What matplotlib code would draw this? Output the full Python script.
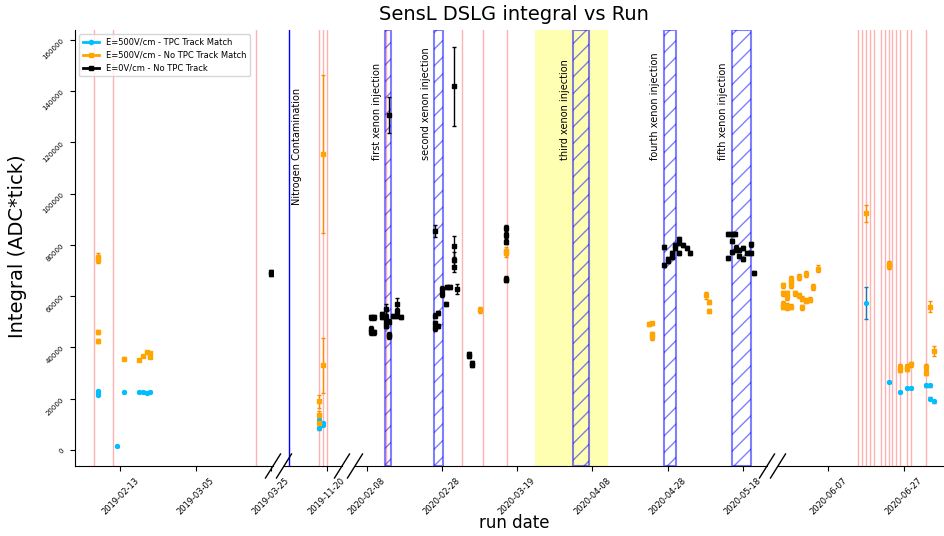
import pandas as pd
import matplotlib
matplotlib.use('Agg')
import matplotlib.pyplot as plt
import matplotlib.dates as mdates
from matplotlib.lines import Line2D

# E=500V/cm - TPC Track Match
blue_dates = ['2019-02-07', '2019-02-07', '2019-02-07', '2019-02-12', '2019-02-14', '2019-02-18',
              '2019-02-19', '2019-02-20', '2019-02-21', '2019-11-18', '2019-11-18',
              '2019-11-18 22:00', '2019-11-18 22:00', '2020-06-17', '2020-06-23', '2020-06-25 22:00',
              '2020-06-27 22:00', '2020-06-28 22:00', '2020-07-02 20:00', '2020-07-03 22:00',
              '2020-07-03 22:00', '2020-07-04 22:00']
blue_vals = [21500, 22300, 23000, 1600, 22500, 22500, 22700, 22400, 22800, 11800, 8500,
             10500, 9800, 57500, 26500, 22700, 24200, 24200, 25200, 25200, 20000, 19000]
blue_errs = [500, 500, 500, 300, 400, 400, 400, 400, 400, 600, 600,
             600, 600, 6200, 500, 500, 500, 500, 500, 500, 500, 500]

# E=500V/cm - No TPC Track Match
orange_dates = ['2019-02-07', '2019-02-07', '2019-02-07', '2019-02-07', '2019-02-14', '2019-02-18',
                '2019-02-19', '2019-02-20', '2019-02-21', '2019-02-21', '2019-11-18', '2019-11-18',
                '2019-11-18', '2019-11-18 22:00', '2019-11-18 22:00', '2020-03-09 05:00',
                '2020-03-16 02:00', '2020-03-16 02:00', '2020-04-23', '2020-04-24', '2020-04-24',
                '2020-04-24', '2020-05-08 04:00', '2020-05-09 02:00', '2020-05-09 02:00',
                '2020-05-26 02:00', '2020-05-26 02:00', '2020-05-26 02:00', '2020-05-26 02:00',
                '2020-05-27', '2020-05-27', '2020-05-27', '2020-05-27',
                '2020-05-28 02:00', '2020-05-28 02:00', '2020-05-28 02:00', '2020-05-28 02:00',
                '2020-05-29 05:00', '2020-05-30 05:00', '2020-05-30 05:00', '2020-05-31 02:00',
                '2020-05-31 02:00', '2020-06-01 02:00', '2020-06-01 02:00', '2020-06-02 02:00',
                '2020-06-03', '2020-06-04 05:00', '2020-06-17', '2020-06-23', '2020-06-23',
                '2020-06-25 22:00', '2020-06-25 22:00', '2020-06-27 22:00', '2020-06-27 22:00',
                '2020-06-28 22:00', '2020-07-02 20:00', '2020-07-02 20:00', '2020-07-03 22:00',
                '2020-07-04 22:00']
orange_vals = [75500, 74000, 46100, 42600, 35650, 35100, 36700, 38250, 37700, 36300,
               19000, 13750, 10600, 115500, 33000, 54600, 77600, 77000, 49100, 49400, 45200,
               43900, 60300, 57700, 54100, 64200, 61200, 57000, 55900, 61200, 59600, 56300,
               55700, 66800, 65500, 64200, 55900, 61200, 67500, 60300, 59000, 55700, 68800,
               58300, 58600, 63600, 70800, 92400, 72700, 71600, 32500, 31400, 32500, 31700,
               33400, 32400, 30100, 55900, 38700]
orange_errs = [1500, 1200, 800, 800, 500, 500, 500, 500, 600, 600, 2500, 1500, 1000,
               31000, 10800, 1000, 1500, 1500, 700, 700, 1000, 1000, 1500, 800, 800,
               1000, 1000, 1000, 1000, 1000, 1000, 1000, 1000, 1000, 1000, 1000, 1000,
               1000, 1200, 1000, 1000, 1000, 1200, 1000, 1000, 1000, 1500, 3300, 1000,
               1000, 1000, 1000, 1000, 1000, 1000, 1000, 1000, 2200, 2000]

# E=0V/cm - No TPC Track
black_dates = ['2019-03-25', '2019-03-25', '2020-02-09 04:00', '2020-02-09 04:00',
               '2020-02-09 04:00', '2020-02-10', '2020-02-10', '2020-02-12', '2020-02-12',
               '2020-02-13 02:00', '2020-02-13 02:00', '2020-02-13 02:00', '2020-02-13 02:00',
               '2020-02-14', '2020-02-14', '2020-02-14', '2020-02-14', '2020-02-15 02:00',
               '2020-02-16 04:00', '2020-02-16 04:00', '2020-02-16 04:00', '2020-02-17 02:00',
               '2020-02-26 05:00', '2020-02-26 05:00', '2020-02-26 05:00', '2020-02-26 05:00',
               '2020-02-27 02:00', '2020-02-27 02:00', '2020-02-28 02:00', '2020-02-28 02:00',
               '2020-02-29', '2020-02-29 10:00', '2020-03-01 05:00', '2020-03-02 06:00',
               '2020-03-02 06:00', '2020-03-02 06:00', '2020-03-02 06:00', '2020-03-03 02:00',
               '2020-03-06 02:00', '2020-03-06 02:00', '2020-03-07 02:00', '2020-03-07 02:00',
               '2020-03-16 02:00', '2020-03-16 02:00', '2020-03-16 02:00', '2020-03-16 02:00',
               '2020-03-16 02:00', '2020-04-27', '2020-04-27', '2020-04-28', '2020-04-28',
               '2020-04-29 02:00', '2020-04-29 02:00', '2020-04-30', '2020-04-30', '2020-05-01',
               '2020-05-01', '2020-05-01', '2020-05-02', '2020-05-03 02:00', '2020-05-04 02:00',
               '2020-05-14', '2020-05-14 05:00', '2020-05-15 02:00', '2020-05-15 02:00',
               '2020-05-15 02:00', '2020-05-16', '2020-05-16 02:00', '2020-05-16 02:00',
               '2020-05-17', '2020-05-17', '2020-05-18', '2020-05-18', '2020-05-19 02:00',
               '2020-05-20 02:00', '2020-05-20 02:00', '2020-05-21 02:00']
black_vals = [69500, 68500, 51800, 47200, 46000, 51800, 46000, 53000, 51800, 55000, 52000,
              50000, 48500, 130600, 50000, 45000, 44500, 52400, 57000, 54400, 52400, 52000,
              85600, 52400, 49400, 47500, 53300, 48500, 62900, 60700, 57000, 63600, 63600,
              141900, 79500, 74300, 71400, 62900, 37300, 36800, 33900, 33000, 86500, 83900,
              81200, 66800, 66400, 79300, 72100, 74700, 73800, 76700, 75400, 79000, 80000,
              82300, 80600, 76700, 80000, 78900, 76900, 75000, 84300, 84300, 81700, 77300,
              84300, 79000, 78000, 75700, 78200, 78900, 74700, 76900, 80200, 76700, 69200]
black_errs = [800, 800, 1000, 1000, 1000, 1000, 1000, 800, 800, 2000, 1000, 1000, 1000,
              7000, 1000, 1000, 1000, 800, 2500, 1000, 1000, 800, 2300, 1000, 1000, 1000,
              800, 800, 1000, 1000, 800, 800, 800, 15500, 4000, 3000, 2000, 2000, 800, 800,
              800, 800, 1200, 1000, 1000, 1000, 1000, 800, 800, 800, 800, 800, 800, 800, 800,
              800, 800, 800, 800, 800, 800, 800, 800, 800, 800, 800, 800, 800, 800, 800,
              800, 800, 800, 800, 800, 800, 800]

pink_lines = ['2019-02-06 02:00', '2019-02-11 01:00', '2019-03-21', '2019-11-18',
              '2019-11-18 22:00', '2019-11-20', '2020-02-13', '2020-03-04 07:00',
              '2020-03-10 01:00', '2020-03-16 07:00', '2020-06-14 22:00', '2020-06-16',
              '2020-06-17', '2020-06-18 02:00', '2020-06-19', '2020-06-21', '2020-06-22',
              '2020-06-23', '2020-06-23 22:00', '2020-06-24 22:00', '2020-06-26',
              '2020-06-27 20:00', '2020-06-28 22:00', '2020-07-02 22:00']
n2_date = '2019-11-10'
yellow_band = ('2020-03-23 19:00', '2020-04-12 04:00')
xenon_start = ['2020-02-12 21:00', '2020-02-26', '2020-04-02 20:00', '2020-04-27', '2020-05-15 02:00']
xenon_end = ['2020-02-14 10:00', '2020-02-28 06:00', '2020-04-07', '2020-04-30 03:00', '2020-05-20 03:00']
xenon_labels = ['first xenon injection', 'second xenon injection', 'third xenon injection',
                'fourth xenon injection', 'fifth xenon injection']

seg_limits = [('2019-01-31 23:00', '2019-03-25 14:00'),
              ('2019-11-08 15:00', '2019-11-24 02:00'),
              ('2020-02-04 21:00', '2020-05-24 11:00'),
              ('2020-05-24 17:00', '2020-07-07 14:00')]
tick_dates = ['2019-02-13', '2019-03-05', '2019-03-25', '2019-11-20', '2020-02-08', '2020-02-28',
              '2020-03-19', '2020-04-08', '2020-04-28', '2020-05-18', '2020-06-07', '2020-06-27']


def dn(s):
    return mdates.date2num(pd.to_datetime(s).to_pydatetime())


W, H = 944, 536
seg_px = [(75, 273), (284, 342), (355, 767), (778, 944)]
ax_bottom, ax_top = 466, 30

fig = plt.figure(figsize=(W / 100, H / 100), dpi=100)
axes = []
for (x0, x1), (d0, d1) in zip(seg_px, seg_limits):
    ax = fig.add_axes([x0 / W, 1 - ax_bottom / H, (x1 - x0) / W, (ax_bottom - ax_top) / H])
    lo, hi = dn(d0), dn(d1)
    for p in pink_lines:
        ax.axvline(dn(p), color='red', alpha=0.3, lw=1)
    ax.axvline(dn(n2_date), color='blue', lw=1)
    ax.axvspan(dn(yellow_band[0]), dn(yellow_band[1]), color='yellow', alpha=0.3, lw=0)
    for s, e, lab in zip(xenon_start, xenon_end, xenon_labels):
        ax.axvspan(dn(s), dn(e), facecolor='none', edgecolor='blue', hatch='//', alpha=0.5, lw=1.5)
        if lo < dn(s) < hi:
            ax.text(dn(s) - 0.9, 113000, lab, rotation=90, ha='right', va='bottom', fontsize=7)
    if lo < dn(n2_date) < hi:
        ax.text(dn(n2_date) + 0.7, 95600, 'Nitrogen Contamination', rotation=90,
                ha='left', va='bottom', fontsize=7)

    ax.errorbar([dn(x) for x in blue_dates], blue_vals, yerr=blue_errs, fmt='o', color='deepskyblue',
                ecolor='tab:blue', ms=2.8, capsize=1.5, elinewidth=1)
    ax.errorbar([dn(x) for x in orange_dates], orange_vals, yerr=orange_errs, fmt='s', color='orange',
                ecolor='darkorange', ms=2.2, capsize=1.5, elinewidth=1)
    ax.errorbar([dn(x) for x in black_dates], black_vals, yerr=black_errs, fmt='s', color='black',
                ms=2.2, capsize=1.5, elinewidth=1)

    ax.set_xlim(lo, hi)
    ax.set_ylim(-6260, 163900)
    ticks = [dn(t) for t in tick_dates if lo <= dn(t) <= hi]
    ax.set_xticks(ticks)
    ax.set_xticklabels([t for t in tick_dates if lo <= dn(t) <= hi], rotation=45, fontsize=6)
    ax.spines['top'].set_visible(False)
    ax.spines['right'].set_visible(False)
    if axes:
        ax.spines['left'].set_visible(False)
        ax.set_yticks([])
    else:
        ax.set_yticks(range(0, 160001, 20000))
        ax.tick_params(axis='y', labelsize=5, labelrotation=45)
    ax.patch.set_alpha(0)
    axes.append(ax)

handles = [Line2D([], [], color='deepskyblue', marker='o', lw=2, ms=3),
           Line2D([], [], color='orange', marker='s', lw=2, ms=2.5),
           Line2D([], [], color='black', marker='s', lw=2, ms=2.5)]
axes[0].legend(handles, ['E=500V/cm - TPC Track Match', 'E=500V/cm - No TPC Track Match',
                         'E=0V/cm - No TPC Track'], loc='upper left', fontsize=6)

# break marks on the bottom spine
for xb in [273, 284, 342, 355, 767, 778]:
    fig.add_artist(Line2D([(xb - 7.5) / W, (xb + 7.5) / W], [1 - 478 / H, 1 - 454 / H],
                          color='black', lw=1, transform=fig.transFigure))

fig.text(514 / W, 1 - 14 / H, 'SensL DSLG integral vs Run', ha='center', va='center', fontsize=14)
fig.text(514 / W, 1 - 523 / H, 'run date', ha='center', va='center', fontsize=12)
fig.text(18 / W, 1 - 246 / H, 'Integral (ADC*tick)', ha='center', va='center', rotation=90, fontsize=14)

fig.savefig('out.png', dpi=100)
